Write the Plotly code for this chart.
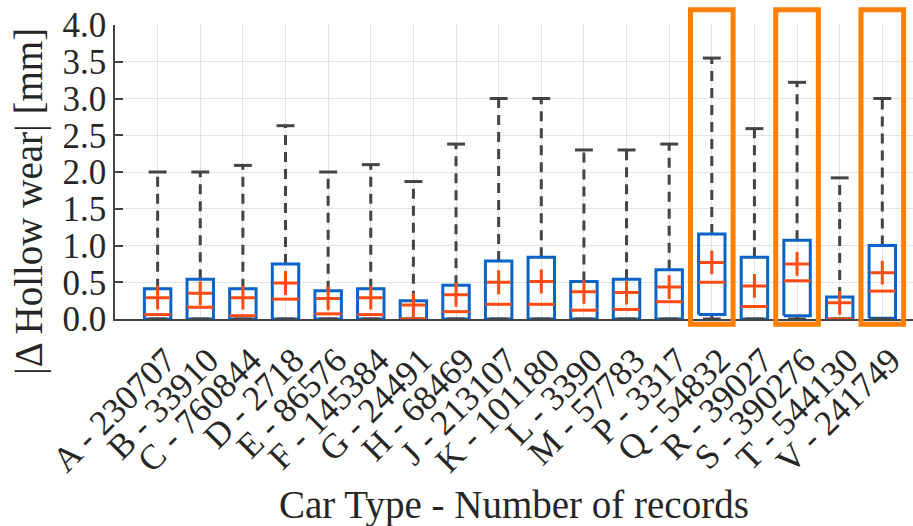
import plotly.graph_objects as go

# ---- data ----
car_types = ["A", "B", "C", "D", "E", "F", "G", "H", "J", "K", "L", "M", "P", "Q", "R", "S", "T", "V"]
n_records = [230707, 33910, 760844, 2718, 86576, 145384, 24491, 68469, 213107, 101180,
             3390, 57783, 3317, 54832, 39027, 390276, 544130, 241749]
lower_whisker = [0, 0, 0, 0, 0, 0, 0, 0, 0, 0, 0, 0, 0, 0, 0, 0, 0, 0]
q1 = [0.0, 0.0, 0.0, 0.0, 0.0, 0.0, 0.0, 0.0, 0.0, 0.0, 0.0, 0.0, 0.0, 0.06, 0.0, 0.045, 0.0, 0.01]
median = [0.06, 0.16, 0.045, 0.27, 0.07, 0.06, 0.0, 0.10, 0.20, 0.20, 0.12, 0.13, 0.235, 0.50, 0.17, 0.52, 0.0, 0.38]
q3 = [0.41, 0.54, 0.41, 0.75, 0.385, 0.41, 0.25, 0.46, 0.79, 0.84, 0.51, 0.54, 0.67, 1.155, 0.84, 1.07, 0.30, 1.0]
mean = [0.29, 0.35, 0.29, 0.49, 0.28, 0.29, 0.19, 0.33, 0.50, 0.51, 0.37, 0.36, 0.435, 0.77, 0.45, 0.75, 0.22, 0.63]
upper_whisker = [2.0, 2.0, 2.09, 2.63, 2.0, 2.10, 1.87, 2.38, 3.0, 3.0, 2.30, 2.30, 2.38, 3.55, 2.59, 3.22, 1.92, 3.0]
highlighted = ["Q", "S", "V"]
y_ticks = [0.0, 0.5, 1.0, 1.5, 2.0, 2.5, 3.0, 3.5, 4.0]

# ---- styles ----
FONT = "Times New Roman, Liberation Serif, serif"
TXT = "#262626"
BLUE = "#0A64C8"
RED = "#FF4A12"
GRAY = "#444444"
ORANGE = "#FF8000"
BOX_HW = 0.31
CAP_HW = 0.21
X_RANGE = [0, 18.72]
Y_RANGE = [0, 4.0]

xs = list(range(1, len(car_types) + 1))
labels = [f"{c} - {n}" for c, n in zip(car_types, n_records)]

def segs(pairs):
    X, Y = [], []
    for (xa, ya, xb, yb) in pairs:
        X += [xa, xb, None]
        Y += [ya, yb, None]
    return X, Y

fig = go.Figure()

# whiskers (dashed)
wx, wy = segs([(x, q3[i], x, upper_whisker[i]) for i, x in enumerate(xs)] +
              [(x, lower_whisker[i], x, q1[i]) for i, x in enumerate(xs)])
fig.add_trace(go.Scatter(x=wx, y=wy, mode="lines", line=dict(color=GRAY, width=3, dash="10px,7px"),
                         hoverinfo="skip", showlegend=False))

# boxes
bx, by = [], []
for i, x in enumerate(xs):
    bx += [x - BOX_HW, x + BOX_HW, x + BOX_HW, x - BOX_HW, x - BOX_HW, None]
    by += [q1[i], q1[i], q3[i], q3[i], q1[i], None]
fig.add_trace(go.Scatter(x=bx, y=by, mode="lines", line=dict(color=BLUE, width=3),
                         hoverinfo="skip", showlegend=False))

# caps
cx, cy = segs([(x - CAP_HW, upper_whisker[i], x + CAP_HW, upper_whisker[i]) for i, x in enumerate(xs)] +
              [(x - CAP_HW, lower_whisker[i], x + CAP_HW, lower_whisker[i]) for i, x in enumerate(xs)])
fig.add_trace(go.Scatter(x=cx, y=cy, mode="lines", line=dict(color=GRAY, width=3),
                         hoverinfo="skip", showlegend=False))

# medians
mx, my = segs([(x - BOX_HW, median[i], x + BOX_HW, median[i]) for i, x in enumerate(xs)])
fig.add_trace(go.Scatter(x=mx, y=my, mode="lines", line=dict(color=RED, width=3),
                         hoverinfo="skip", showlegend=False))

# means
fig.add_trace(go.Scatter(x=xs, y=mean, mode="markers",
                         marker=dict(symbol="cross-thin", size=17, line=dict(color=RED, width=3)),
                         hoverinfo="skip", showlegend=False))

# highlight rectangles
span = X_RANGE[1] - X_RANGE[0]
for c in highlighted:
    k = car_types.index(c) + 1
    fig.add_shape(type="rect", xref="x domain", yref="y domain",
                  x0=(k - 0.5 - X_RANGE[0]) / span, x1=(k + 0.5 - X_RANGE[0]) / span,
                  y0=-0.018, y1=1.052,
                  line=dict(color=ORANGE, width=5), fillcolor="rgba(0,0,0,0)", layer="above")

fig.update_layout(
    width=913, height=526,
    margin=dict(l=115, r=0, t=25, b=207),
    plot_bgcolor="white", paper_bgcolor="white",
    font=dict(family=FONT, color=TXT),
    xaxis=dict(range=X_RANGE, tickmode="array", tickvals=xs, ticktext=labels, tickangle=-45,
               tickfont=dict(size=35, family=FONT, color=TXT),
               ticklabelshift=8, ticklabelstandoff=5, ticklabeloverflow="allow",
               showgrid=True, gridcolor="#e3e3e3", gridwidth=1, zeroline=False,
               showline=True, linecolor="#444444", linewidth=1.5, ticks="", ticklen=0),
    yaxis=dict(range=Y_RANGE, tickmode="array", tickvals=y_ticks, ticktext=[f"{v:.1f}" for v in y_ticks],
               tickfont=dict(size=35, family=FONT, color=TXT),
               showgrid=True, gridcolor="#e3e3e3", gridwidth=1, zeroline=False,
               showline=True, linecolor="#444444", linewidth=1.5,
               ticks="inside", ticklen=8, tickcolor="#444444", tickwidth=1.5),
    annotations=[
        dict(text="Car Type - Number of records", xref="paper", yref="paper", x=0.5, y=-0.633,
             xanchor="center", yanchor="middle", showarrow=False,
             font=dict(size=39, family=FONT, color=TXT)),
        dict(text="|Δ Hollow wear| [mm]", xref="paper", yref="paper", x=-0.107, y=0.4,
             xanchor="center", yanchor="middle", textangle=-90, showarrow=False,
             font=dict(size=39, family=FONT, color=TXT)),
    ],
)

fig.write_html("out.html")
